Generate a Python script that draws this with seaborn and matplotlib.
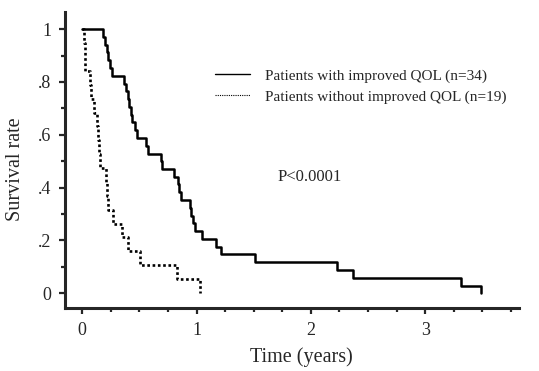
import numpy as np
import pandas as pd
import matplotlib
matplotlib.use("Agg")
import matplotlib.pyplot as plt
import seaborn as sns
from matplotlib.lines import Line2D
from matplotlib.ticker import MultipleLocator

# Kaplan-Meier steps (time in years, survival after the step)
improved_time = [0.0, 0.18, 0.20, 0.215, 0.23, 0.245, 0.26, 0.37, 0.385, 0.40, 0.41,
                 0.425, 0.44, 0.46, 0.48, 0.557, 0.58, 0.685, 0.70, 0.80, 0.84, 0.85,
                 0.86, 0.944, 0.955, 0.968, 0.985, 1.05, 1.17, 1.21, 1.51, 2.23, 2.37,
                 3.31, 3.49]
improved_surv = [1.0, 0.971, 0.941, 0.912, 0.882, 0.853, 0.824, 0.794, 0.765, 0.735, 0.706,
                 0.676, 0.647, 0.618, 0.588, 0.559, 0.529, 0.500, 0.471, 0.441, 0.412, 0.382,
                 0.353, 0.324, 0.294, 0.265, 0.235, 0.206, 0.176, 0.147, 0.118, 0.088, 0.059,
                 0.029, 0.0]

without_time = [0.0, 0.020, 0.022, 0.025, 0.07, 0.08, 0.10, 0.13, 0.14, 0.15, 0.16,
                0.21, 0.22, 0.23, 0.27, 0.35, 0.40, 0.505, 0.826, 1.03]
without_surv = [1.0, 0.947, 0.895, 0.842, 0.789, 0.737, 0.684, 0.632, 0.579, 0.526, 0.474,
                0.421, 0.368, 0.316, 0.263, 0.211, 0.158, 0.105, 0.053, 0.0]

labels = ["Patients with improved QOL (n=34)", "Patients without improved QOL (n=19)"]
y_ticks = [0, 0.2, 0.4, 0.6, 0.8, 1.0]
y_ticklabels = ["0", ".2", ".4", ".6", ".8", "1"]
x_ticks = [0, 1, 2, 3]
p_text = "P<0.0001"


def main():
    sns.set_style("ticks")
    plt.rcParams['font.family'] = ['Liberation Serif', 'DejaVu Serif']

    df_imp = pd.DataFrame({'time': improved_time, 'surv': improved_surv})
    df_wo = pd.DataFrame({'time': without_time, 'surv': without_surv})

    fig = plt.figure(figsize=(5.39, 3.71), dpi=100)
    ax = fig.add_axes([0.1206, 0.1706, 0.963 - 0.1206, 0.9677 - 0.1706])

    sns.lineplot(x='time', y='surv', data=df_imp, ax=ax, estimator=None, sort=False,
                 drawstyle='steps-post', color='black', linewidth=1.8)
    sns.lineplot(x='time', y='surv', data=df_wo, ax=ax, estimator=None, sort=False,
                 drawstyle='steps-post', color='black', linewidth=1.9,
                 linestyle=(0, (1, 1)), dash_capstyle='butt')

    ax.set_xlim(-0.15, 3.82)
    ax.set_ylim(-0.055, 1.065)
    ax.set_xticks(x_ticks)
    ax.set_xticklabels([str(t) for t in x_ticks])
    ax.xaxis.set_minor_locator(MultipleLocator(0.25))
    ax.set_yticks(y_ticks)
    ax.set_yticklabels(y_ticklabels)
    ax.yaxis.set_minor_locator(MultipleLocator(0.1))

    for side in ['top', 'right']:
        ax.spines[side].set_visible(False)
    for side in ['left', 'bottom']:
        ax.spines[side].set_linewidth(2.2)
    ax.tick_params(which='major', direction='out', length=4, width=1.6, labelsize=13, pad=6)
    ax.tick_params(which='minor', direction='out', length=3, width=1.6)

    ax.set_xlabel('Time (years)', fontsize=14.5)
    ax.set_ylabel('Survival rate', fontsize=14.5)
    ax.xaxis.set_label_coords(0.52, -0.135)
    ax.yaxis.set_label_coords(-0.088, 0.47)

    handles = [Line2D([], [], color='black', linewidth=1.0),
               Line2D([], [], color='black', linewidth=0.8, linestyle=(0, (1, 1)))]
    ax.legend(handles, labels, loc='upper left', bbox_to_anchor=(0.33, 0.807), frameon=False,
              fontsize=11, handlelength=2.3, handletextpad=1.0, labelspacing=0.44,
              borderaxespad=0, borderpad=0)

    ax.text(0.469, 0.443, p_text, transform=ax.transAxes, fontsize=12, ha='left', va='center')

    fig.savefig('out.png', dpi=100)


if '__main__' == __name__:
    main()
